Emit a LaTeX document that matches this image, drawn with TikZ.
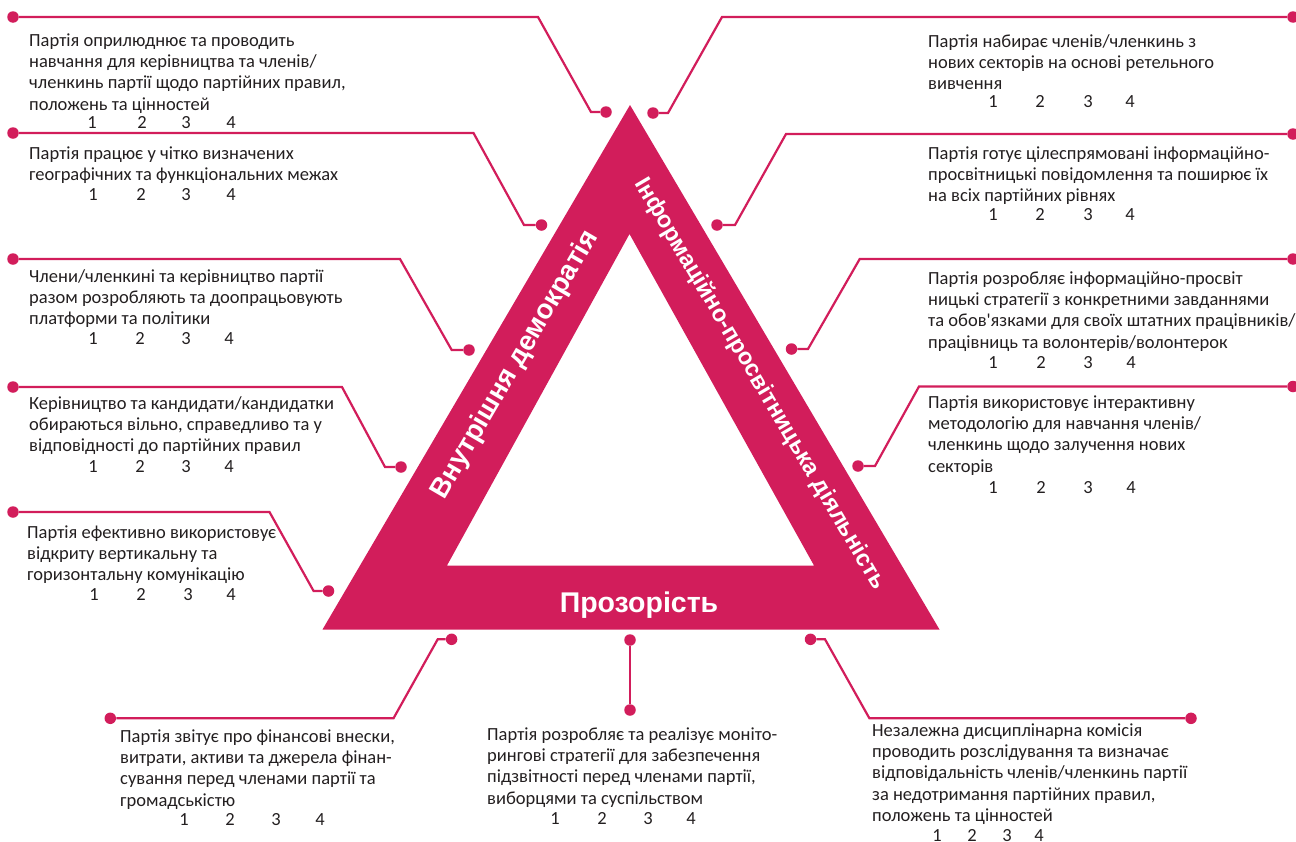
\documentclass[tikz,border=0pt]{standalone}
\usepackage{fontspec}
\newfontfamily\bodyfont{Carlito}
\newfontfamily\labelfont{Liberation Sans}
\definecolor{mag}{RGB}{210,29,91}
\definecolor{ink}{RGB}{35,31,32}
\newcommand\numrow[6]{\foreach \i/\xx in {1/#2,2/#3,3/#4,4/#5}{\node[num] (#1-\i) at (\xx,#6) {\i};}}
\begin{document}
\begin{tikzpicture}[x=1pt,y=-1pt,
 dot/.style={circle,fill=mag,inner sep=0pt,minimum size=11.5pt},
 conn/.style={draw=mag,line width=2.2pt},
 txt/.style={anchor=north west,inner sep=0pt,align=left,text=ink,font=\bodyfont\fontsize{18.5}{21.4}\selectfont},
 num/.style={anchor=base,inner sep=0pt,text=ink,font=\bodyfont\fontsize{18.5}{21.4}\selectfont},
 band/.style={fill=mag,even odd rule},
 sidelabel/.style={text=white,inner sep=0pt,font=\labelfont\bfseries\fontsize{27.5}{32}\selectfont}]
\useasboundingbox (0,0) rectangle (1296,841);

% triangle
\fill[band] (630,105) -- (322.5,629.5) -- (939.5,629.5) -- cycle
            (629.5,234) -- (447,565.5) -- (814,565.5) -- cycle;
\node[sidelabel,anchor=base,font=\labelfont\bfseries\fontsize{28.5}{32}\selectfont] (tp) at (639,612) {Прозорість};
\node[sidelabel,rotate=59.7] (tl) at (515,365) {Внутрішня демократія};
\node[sidelabel,rotate=-59.5,font=\labelfont\bfseries\fontsize{23.5}{27}\selectfont] (tr) at (760,384) {Інформаційно-просвітницька діяльність};

% dots
\node[dot] (L1a) at (13,17) {};   \node[dot] (L1b) at (606,112) {};
\node[dot] (L2a) at (13,133) {};  \node[dot] (L2b) at (541.5,225) {};
\node[dot] (L3a) at (13,259) {};  \node[dot] (L3b) at (469,350) {};
\node[dot] (L4a) at (13,387) {};  \node[dot] (L4b) at (401,467) {};
\node[dot] (L5a) at (13,512) {};  \node[dot] (L5b) at (328.5,591) {};
\node[dot] (R1a) at (1293,17) {}; \node[dot] (R1b) at (653,113) {};
\node[dot] (R2a) at (1293,134) {};\node[dot] (R2b) at (717,225) {};
\node[dot] (R3a) at (1293,259) {};\node[dot] (R3b) at (791.5,349) {};
\node[dot] (R4a) at (1293,386.5) {};\node[dot] (R4b) at (858,466) {};
\node[dot] (B1a) at (451.6,639.3) {};\node[dot] (B1b) at (110.3,718.3) {};
\node[dot] (B2a) at (630,640) {};  \node[dot] (B2b) at (630,710) {};
\node[dot] (B3a) at (810.5,639.3) {};\node[dot] (B3b) at (1191,718.3) {};

% connectors
\draw[conn] (L1a) -- (538,17) -- (591,112) -- (L1b);
\draw[conn] (L2a) -- (473.5,133) -- (524,225) -- (L2b);
\draw[conn] (L3a) -- (400,259) -- (451.7,350) -- (L3b);
\draw[conn] (L4a) -- (342,387) -- (385,467) -- (L4b);
\draw[conn] (L5a) -- (269.5,512) -- (313.6,591) -- (L5b);
\draw[conn] (R1a) -- (722,17) -- (668,113) -- (R1b);
\draw[conn] (R2a) -- (786,134) -- (735,225) -- (R2b);
\draw[conn] (R3a) -- (859.7,259) -- (808,349) -- (R3b);
\draw[conn] (R4a) -- (919,386.5) -- (875,466) -- (R4b);
\draw[conn] (B1a) -- (437.7,639.3) -- (393.5,718.3) -- (B1b);
\draw[conn] (B2a) -- (B2b);
\draw[conn] (B3a) -- (825,639.3) -- (869.4,718.3) -- (B3b);

% texts
\node[txt] (L1t) at (29,31) {\strut Партія оприлюднює та проводить\\\strut навчання для керівництва та членів/\\\strut членкинь партії щодо партійних правил,\\\strut положень та цінностей};
\numrow{L1n}{92}{142}{186}{231}{128}
\node[txt] (L2t) at (29,144) {\strut Партія працює у чітко визначених\\\strut географічних та функціональних межах};
\numrow{L2n}{93}{141}{186}{231}{200}
\node[txt] (L3t) at (29,267) {\strut Члени/членкині та керівництво партії\\\strut разом розробляють та доопрацьовують\\\strut платформи та політики};
\numrow{L3n}{93}{140}{186}{229}{344}
\node[txt] (L4t) at (29,394) {\strut Керівництво та кандидати/кандидатки\\\strut обираються вільно, справедливо та у\\\strut відповідності до партійних правил};
\numrow{L4n}{93}{140}{186}{229}{472}
\node[txt] (L5t) at (27,523) {\strut Партія ефективно використовує\\\strut відкриту вертикальну та\\\strut горизонтальну комунікацію};
\numrow{L5n}{94}{141}{188}{231}{600}

\node[txt] (R1t) at (928,32) {\strut Партія набирає членів/членкинь з\\\strut нових секторів на основі ретельного\\\strut вивчення};
\numrow{R1n}{993}{1040}{1088}{1130}{107}
\node[txt] (R2t) at (928,144) {\strut Партія готує цілеспрямовані інформаційно-\\\strut просвітницькі повідомлення та поширює їх\\\strut на всіх партійних рівнях};
\numrow{R2n}{993}{1040}{1088}{1130}{220}
\node[txt] (R3t) at (928,269) {\strut Партія розробляє інформаційно-просвіт\\\strut ницькі стратегії з конкретними завданнями\\\strut та обов'язками для своїх штатних працівників/\\\strut працівниць та волонтерів/волонтерок};
\numrow{R3n}{993}{1041}{1088}{1131}{368}
\node[txt] (R4t) at (928,393) {\strut Партія використовує інтерактивну\\\strut методологію для навчання членів/\\\strut членкинь щодо залучення нових\\\strut секторів};
\numrow{R4n}{993}{1041}{1088}{1131}{493}

\node[txt] (B1t) at (120,727) {\strut Партія звітує про фінансові внески,\\\strut витрати, активи та джерела фінан-\\\strut сування перед членами партії та\\\strut громадськістю};
\numrow{B1n}{184}{230}{276}{320}{825}
\node[txt] (B2t) at (487,725) {\strut Партія розробляє та реалізує моніто-\\\strut рингові стратегії для забезпечення\\\strut підзвітності перед членами партії,\\\strut виборцями та суспільством};
\numrow{B2n}{555}{602}{648}{691}{824}
\node[txt] (B3t) at (872,721) {\strut Незалежна дисциплінарна комісія\\\strut проводить розслідування та визначає\\\strut відповідальність членів/членкинь партії\\\strut за недотримання партійних правил,\\\strut положень та цінностей};
\numrow{B3n}{937}{972}{1007}{1039}{841}
\end{tikzpicture}
\end{document}
